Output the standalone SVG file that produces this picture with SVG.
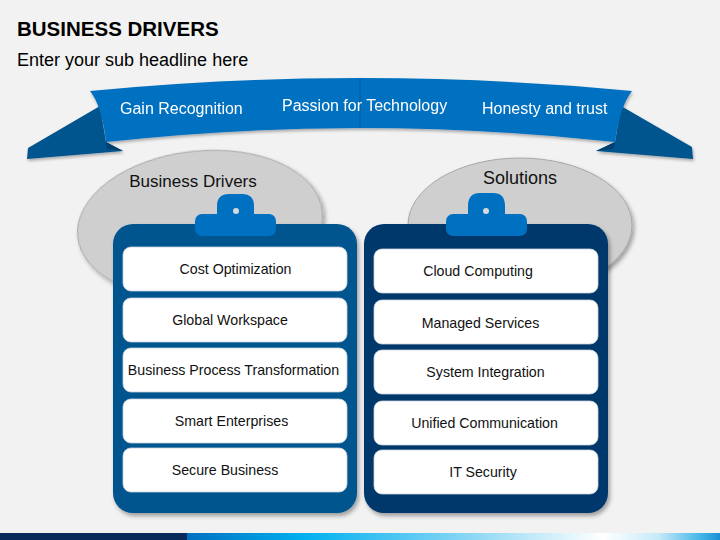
<svg xmlns="http://www.w3.org/2000/svg" width="720" height="540" viewBox="0 0 720 540">
<defs>
<filter id="sh" x="-10%" y="-10%" width="130%" height="130%">
<feDropShadow dx="2" dy="3" stdDeviation="2" flood-color="#000" flood-opacity="0.35"/>
</filter>
<filter id="shs" x="-10%" y="-10%" width="130%" height="130%">
<feDropShadow dx="1" dy="2" stdDeviation="1.5" flood-color="#000" flood-opacity="0.3"/>
</filter>
<linearGradient id="bar" x1="0" y1="0" x2="1" y2="0">
<stop offset="0" stop-color="#0070c0"/>
<stop offset="0.22" stop-color="#00b0f0"/>
<stop offset="0.54" stop-color="#8fd8f5"/>
<stop offset="0.78" stop-color="#ffffff"/>
<stop offset="0.885" stop-color="#c5eaf9"/>
<stop offset="0.96" stop-color="#4ab8e8"/>
<stop offset="1" stop-color="#1a8fd6"/>
</linearGradient>
</defs>
<style>
text{font-family:"Liberation Sans",Arial,sans-serif;}
.box{fill:#ffffff;stroke:#c9d3de;stroke-width:0.8;}
.bt{font-size:14.2px;fill:#111;text-anchor:middle;}
.rt{font-size:16px;fill:#ffffff;}
.tab{fill:#0070c0;}
.hole{fill:#d9d9d9;}
.ell{fill:#d0cfcf;stroke:#a8a8a8;stroke-width:1;}
.tail{fill:#03558f;}
.fold{fill:#023f6e;}
</style>
<rect width="720" height="540" fill="#f2f2f2"/>

<g id="header">
<text x="17" y="36" font-size="20.5" font-weight="bold" fill="#000">BUSINESS DRIVERS</text>
<text x="17" y="66" font-size="18" fill="#000">Enter your sub headline here</text>
</g>

<g id="ribbon" filter="url(#shs)">
<path class="tail" d="M100,106 L28,148 L27,159 L123,151 L106,142 Z"/>
<path class="fold" d="M106,142 L123,151 L107,149 Z"/>
<path class="tail" d="M621,106 L692,147 L693,159 L596,151 L615,142 Z"/>
<path class="fold" d="M615,142 L596,151 L613,149 Z"/>
<path fill="#0070c0" d="M90,91 Q360,65 632,91 Q620,106 615,142 Q360,114 106,142 Q102,106 90,91 Z"/>
<line x1="360" y1="78" x2="360" y2="128" stroke="#0a5fa5" stroke-width="1"/>
<text class="rt" x="120" y="114">Gain Recognition</text>
<text class="rt" x="282" y="111">Passion for Technology</text>
<text class="rt" x="482" y="114">Honesty and trust</text>
</g>

<g id="business-drivers">
<ellipse class="ell" cx="200" cy="224" rx="123" ry="73" transform="rotate(-6 200 224)" filter="url(#sh)"/>
<text x="193" y="187" font-size="17" fill="#111" text-anchor="middle">Business Drivers</text>
<rect x="113" y="224" width="244" height="289" rx="20" fill="#03548f" filter="url(#sh)"/>
<rect class="tab" x="195" y="214" width="81" height="22" rx="7"/>
<path class="tab" d="M217,216 V206 Q217,194 229,194 H242 Q254,194 254,206 V216 Z"/>
<circle class="hole" cx="236" cy="211" r="3"/>
<g id="cost-optimization"><rect class="box" x="123" y="247" width="224" height="44" rx="8"/><text class="bt" x="235.5" y="274">Cost Optimization</text></g>
<g id="global-workspace"><rect class="box" x="123" y="298" width="224" height="44" rx="8"/><text class="bt" x="230" y="325">Global Workspace</text></g>
<g id="business-process"><rect class="box" x="123" y="348" width="224" height="44" rx="8"/><text class="bt" x="233.5" y="375">Business Process Transformation</text></g>
<g id="smart-enterprises"><rect class="box" x="123" y="399" width="224" height="44" rx="8"/><text class="bt" x="231.5" y="426">Smart Enterprises</text></g>
<g id="secure-business"><rect class="box" x="123" y="448" width="224" height="44" rx="8"/><text class="bt" x="225" y="475">Secure Business</text></g>
</g>

<g id="solutions">
<ellipse class="ell" cx="520" cy="225" rx="112" ry="67" filter="url(#sh)"/>
<text x="520" y="184" font-size="18" fill="#111" text-anchor="middle">Solutions</text>
<rect x="364" y="224" width="244" height="289" rx="20" fill="#02386c" filter="url(#sh)"/>
<rect class="tab" x="446" y="214" width="81" height="22" rx="7"/>
<path class="tab" d="M468,216 V206 Q468,193 480,193 H493 Q505,193 505,206 V216 Z"/>
<circle class="hole" cx="486" cy="211" r="3"/>
<g id="cloud-computing"><rect class="box" x="374" y="249" width="224" height="44" rx="8"/><text class="bt" x="478" y="276">Cloud Computing</text></g>
<g id="managed-services"><rect class="box" x="374" y="300" width="224" height="44" rx="8"/><text class="bt" x="480.5" y="328">Managed Services</text></g>
<g id="system-integration"><rect class="box" x="374" y="350" width="224" height="44" rx="8"/><text class="bt" x="485.5" y="377">System Integration</text></g>
<g id="unified-communication"><rect class="box" x="374" y="401" width="224" height="44" rx="8"/><text class="bt" x="484.5" y="428">Unified Communication</text></g>
<g id="it-security"><rect class="box" x="374" y="450" width="224" height="44" rx="8"/><text class="bt" x="483" y="477">IT Security</text></g>
</g>

<g id="footer-bar">
<rect x="0" y="533" width="187" height="7" fill="#0a2a5c"/>
<rect x="187" y="533" width="533" height="7" fill="url(#bar)"/>
</g>
</svg>
